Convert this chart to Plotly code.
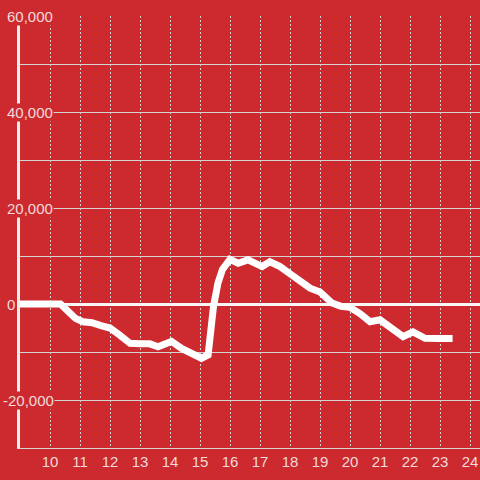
import plotly.graph_objects as go

hours = [9.0, 10.0, 10.35, 10.6, 10.85, 11.1, 11.4, 11.7, 12.0, 12.33, 12.67, 13.0, 13.33, 13.6,
         14.05, 14.4, 14.7, 15.05, 15.27, 15.45, 15.6, 15.75, 16.0, 16.27, 16.6, 17.07, 17.33,
         17.67, 18.0, 18.33, 18.67, 19.0, 19.4, 19.7, 20.0, 20.33, 20.67, 21.0, 21.35, 21.77,
         22.1, 22.5, 23.0, 23.42]
values = [0, 0, 0, -1500, -3000, -3700, -3900, -4500, -5000, -6500, -8200, -8300, -8300, -8900,
          -7800, -9300, -10200, -11300, -10600, -500, 4400, 7200, 9300, 8500, 9200, 7800, 8800,
          7800, 6300, 4600, 3300, 2500, 200, -500, -700, -2000, -3700, -3300, -4800, -6800,
          -5800, -7150, -7200, -7200]

x_ticks = list(range(10, 25))
x_tick_labels = [str(t) for t in x_ticks]
y_ticks = [-20000, 0, 20000, 40000, 60000]
y_tick_labels = ["-20,000", "0", "20,000", "40,000", "60,000"]

RED = "#cc2a2f"
LABEL = "#f2dada"
FONT = "Liberation Sans, Arial, sans-serif"

fig = go.Figure()
fig.add_trace(go.Scatter(x=hours, y=values, mode="lines",
                         line=dict(color="white", width=7), hoverinfo="skip"))

W_PLOT = 460
for v, lab in zip(y_ticks, y_tick_labels):
    fig.add_annotation(x=(6 - 20) / W_PLOT, xref="paper", y=v, yref="y",
                       text=lab, showarrow=False, xanchor="left", yanchor="middle",
                       xshift=-4 if v < 0 else 0,
                       font=dict(family=FONT, size=15, color=LABEL),
                       bgcolor=RED, borderpad=0)

fig.update_layout(
    width=480, height=480,
    margin=dict(l=20, r=0, t=16, b=32, autoexpand=False),
    paper_bgcolor=RED, plot_bgcolor=RED,
    showlegend=False,
    font=dict(family=FONT, size=15, color=LABEL),
    xaxis=dict(range=[9, 24.3333], tickvals=x_ticks, ticktext=x_tick_labels,
               showgrid=True, gridcolor="#d4d4d4", gridwidth=1, griddash="2px,2px",
               zeroline=False, showline=True, linecolor="#d4d4d4", linewidth=1,
               ticks="", fixedrange=True, automargin=False,
               tickfont=dict(family=FONT, size=15, color=LABEL)),
    yaxis=dict(range=[-30000, 60000], dtick=10000, showticklabels=False,
               showgrid=True, gridcolor="#d4d4d4", gridwidth=1,
               zeroline=True, zerolinecolor="#f7f7f7", zerolinewidth=3,
               showline=True, linecolor="#eeeeee", linewidth=3, ticks="",
               fixedrange=True, automargin=False),
)

fig.write_html("out.html",
               config={"displayModeBar": False, "staticPlot": True},
               post_script="document.body.style.margin='0';document.body.style.background='%s';" % RED)
